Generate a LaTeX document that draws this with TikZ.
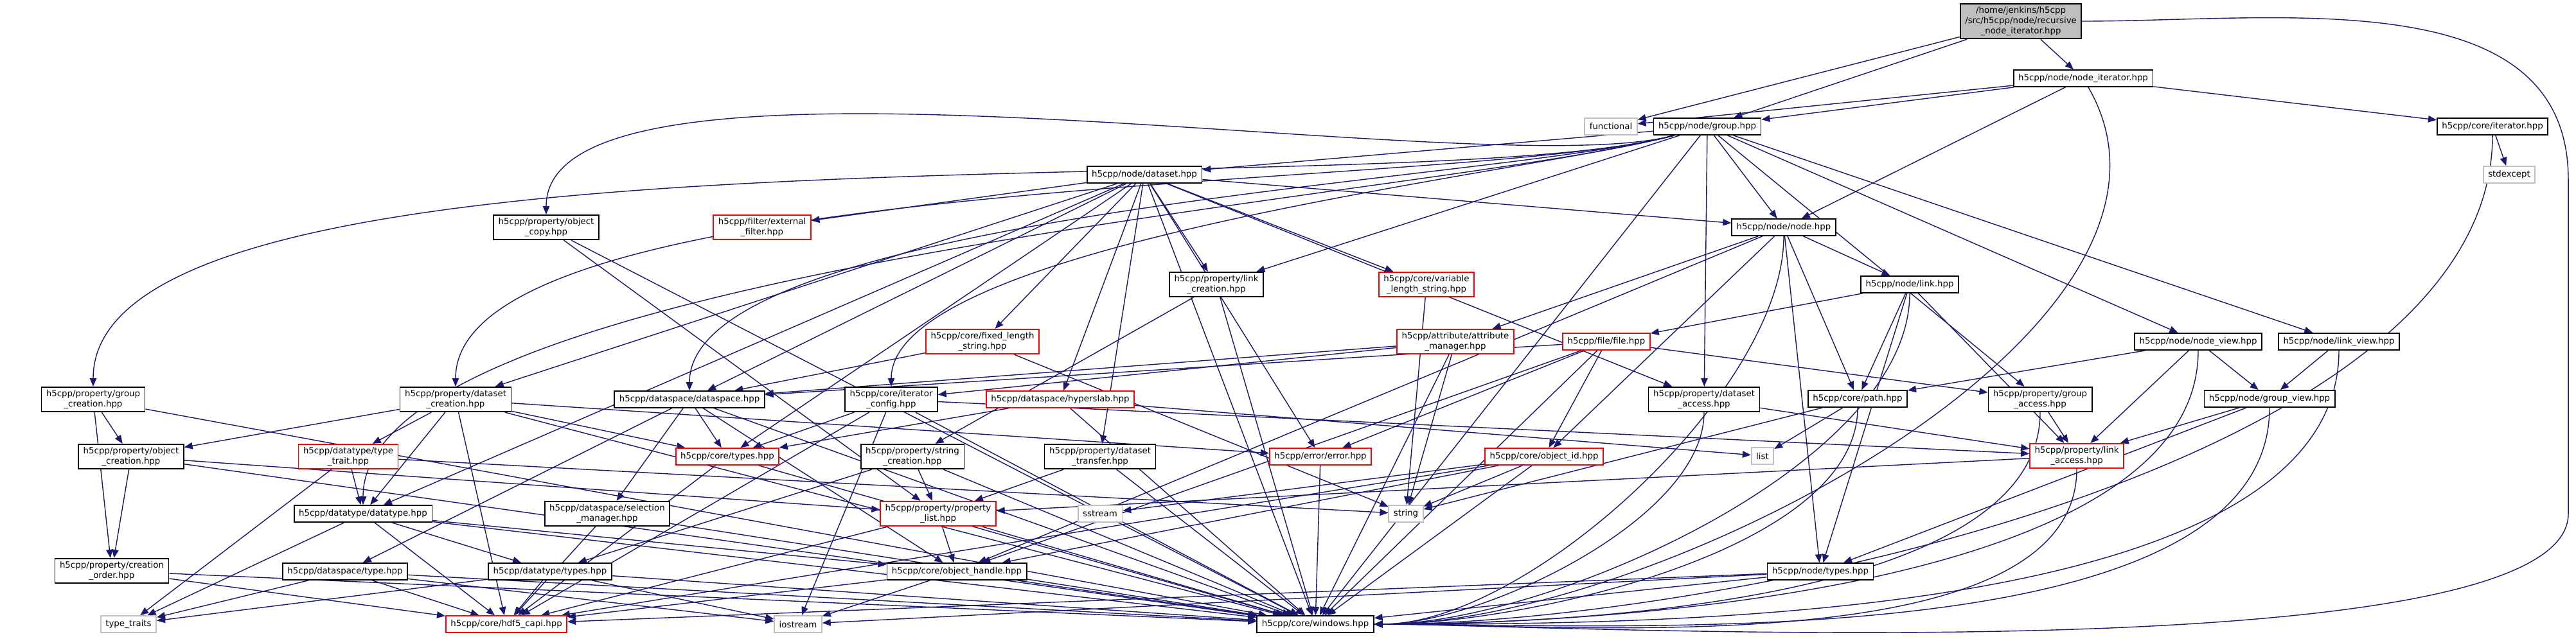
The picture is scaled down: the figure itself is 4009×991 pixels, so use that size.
\documentclass[tikz,border=0pt]{standalone}
\usepackage{fontspec}
\setmainfont{DejaVu Sans}
\usetikzlibrary{arrows.meta,backgrounds}
\definecolor{edgeblue}{RGB}{25,25,112}
\definecolor{sysgray}{RGB}{191,191,191}

\begin{document}
\begin{tikzpicture}[x=0.1mm, y=0.1mm, font=\fontsize{3.8}{4.6}\selectfont,
  hdr/.style={draw=#1, line width=0.5pt, fill=white, align=center,
    inner xsep=0.75mm, inner ysep=0.45mm, minimum height=2.6mm},
  hdr/.default={black},
  sys/.style={hdr=sysgray},
  top/.style={hdr, fill=sysgray},
  dep/.style={->, edgeblue, line width=0.4pt},
  win/.style={out=-90, in=0, looseness=0.7},
  sweep/.style={out=195, in=90, looseness=0.45},
  >={Triangle[length=1.3mm, width=1.05mm]}]
\useasboundingbox (0,0) rectangle (4009,-991);
\node[top] (root) at (3145,-33) {/home/jenkins/h5cpp\\/src/h5cpp/node/recursive\\\_node\_iterator.hpp};
\node[hdr] (nodeit) at (3242,-122) {h5cpp/node/node\_iterator.hpp};
\node[sys] (functional) at (2507,-197) {functional};
\node[hdr] (grouphpp) at (2657,-197) {h5cpp/node/group.hpp};
\node[hdr] (iterator) at (3879,-197) {h5cpp/core/iterator.hpp};
\node[sys] (stdexcept) at (3905,-272) {stdexcept};
\node[hdr] (dataset) at (1781,-272) {h5cpp/node/dataset.hpp};
\node[hdr] (objcopy) at (850,-354) {h5cpp/property/object\\\_copy.hpp};
\node[hdr=red] (extfilter) at (1186,-354) {h5cpp/filter/external\\\_filter.hpp};
\node[hdr] (nodehpp) at (2776,-354) {h5cpp/node/node.hpp};
\node[hdr] (linkcreat) at (1893,-443) {h5cpp/property/link\\\_creation.hpp};
\node[hdr=red] (varstr) at (2220,-443) {h5cpp/core/variable\\\_length\_string.hpp};
\node[hdr] (linkhpp) at (2972,-443) {h5cpp/node/link.hpp};
\node[hdr=red] (fixstr) at (1529,-532) {h5cpp/core/fixed\_length\\\_string.hpp};
\node[hdr=red] (attrman) at (2265,-532) {h5cpp/attribute/attribute\\\_manager.hpp};
\node[hdr=red] (filehpp) at (2500,-532) {h5cpp/file/file.hpp};
\node[hdr] (nodeview) at (3421,-532) {h5cpp/node/node\_view.hpp};
\node[hdr] (linkview) at (3640,-532) {h5cpp/node/link\_view.hpp};
\node[hdr] (grpcreat) at (145,-622) {h5cpp/property/group\\\_creation.hpp};
\node[hdr] (dscreat) at (709,-622) {h5cpp/property/dataset\\\_creation.hpp};
\node[hdr] (dspace) at (1073,-622) {h5cpp/dataspace/dataspace.hpp};
\node[hdr] (itconf) at (1387,-622) {h5cpp/core/iterator\\\_config.hpp};
\node[hdr=red] (hslab) at (1650,-622) {h5cpp/dataspace/hyperslab.hpp};
\node[hdr] (dsaccess) at (2652,-622) {h5cpp/property/dataset\\\_access.hpp};
\node[hdr] (pathhpp) at (2891,-621) {h5cpp/core/path.hpp};
\node[hdr] (grpaccess) at (3175,-622) {h5cpp/property/group\\\_access.hpp};
\node[hdr] (grpview) at (3532,-621) {h5cpp/node/group\_view.hpp};
\node[hdr] (objcreat) at (204,-711) {h5cpp/property/object\\\_creation.hpp};
\node[hdr=red] (typetrait) at (542,-711) {h5cpp/datatype/type\\\_trait.hpp};
\node[hdr=red] (coretypes) at (1132,-711) {h5cpp/core/types.hpp};
\node[hdr] (strcreat) at (1420,-711) {h5cpp/property/string\\\_creation.hpp};
\node[hdr] (dstransfer) at (1712,-711) {h5cpp/property/dataset\\\_transfer.hpp};
\node[hdr=red] (error) at (2055,-711) {h5cpp/error/error.hpp};
\node[hdr=red] (objid) at (2403,-711) {h5cpp/core/object\_id.hpp};
\node[sys] (list) at (2743,-710) {list};
\node[hdr=red] (linkaccess) at (3232,-710) {h5cpp/property/link\\\_access.hpp};
\node[hdr] (datatype) at (565,-800) {h5cpp/datatype/datatype.hpp};
\node[hdr] (selman) at (945,-800) {h5cpp/dataspace/selection\\\_manager.hpp};
\node[hdr=red] (proplist) at (1460,-800) {h5cpp/property/property\\\_list.hpp};
\node[sys] (sstream) at (1712,-800) {sstream};
\node[sys] (string) at (2188,-800) {string};
\node[hdr] (crorder) at (174,-889) {h5cpp/property/creation\\\_order.hpp};
\node[hdr] (dstype) at (537,-890) {h5cpp/dataspace/type.hpp};
\node[hdr] (dttypes) at (856,-890) {h5cpp/datatype/types.hpp};
\node[hdr] (objhandle) at (1489,-890) {h5cpp/core/object\_handle.hpp};
\node[hdr] (nodetypes) at (2833,-890) {h5cpp/node/types.hpp};
\node[sys] (typetraits) at (200,-972) {type\_traits};
\node[hdr=red] (capi) at (788,-972) {h5cpp/core/hdf5\_capi.hpp};
\node[sys] (iostream) at (1242,-972) {iostream};
\node[hdr] (windows) at (2047,-972) {h5cpp/core/windows.hpp};
\coordinate (rbend) at (3997,-280);
\coordinate (rdown) at (3997,-800);
\begin{scope}[on background layer]
\draw[dep] (root) edge (functional) edge (grouphpp) edge (nodeit);
\draw[dep] (root.east) to[out=0, in=90] (rbend) -- (rdown) to[out=-90, in=0, looseness=0.35] (windows.east);
\draw[dep] (nodeit) edge (functional) edge (grouphpp) edge (nodehpp) edge (iterator)
  edge[out=-60, in=0, looseness=0.8] (windows);
\draw[dep] (iterator) edge (stdexcept) edge[win] (windows);
\draw[dep] (grouphpp) edge[sweep] (grpcreat) edge[sweep] (objcopy) edge[sweep] (dscreat)
  edge[sweep] (dspace) edge[sweep] (datatype) edge[sweep] (itconf) edge (dataset) edge (linkcreat)
  edge (nodehpp) edge (dsaccess) edge (grpaccess) edge (nodeview) edge (linkview) edge (windows);
\draw[dep] (dataset) edge (extfilter) edge (dspace) edge (dscreat) edge (datatype) edge (coretypes)
  edge (fixstr) edge (hslab) edge (dstransfer) edge (linkcreat) edge (error) edge (windows)
  edge (varstr) edge (nodehpp) edge (dsaccess);
\draw[dep] (nodehpp) edge (attrman) edge (objhandle) edge (objid) edge (pathhpp) edge (linkhpp)
  edge (nodetypes) edge[win] (windows);
\draw[dep] (linkhpp) edge (filehpp) edge (pathhpp) edge (linkaccess) edge (nodetypes) edge[win] (windows);
\draw[dep] (filehpp) edge (dspace) edge (objhandle) edge (objid) edge (error) edge (grpaccess) edge (windows);
\draw[dep] (attrman) edge (dspace) edge (itconf) edge (string) edge (windows);
\draw[dep] (varstr) edge (string);
\draw[dep] (fixstr) edge (dspace) edge (string);
\draw[dep] (linkcreat) edge (strcreat) edge (windows);
\draw[dep] (hslab) edge (coretypes) edge (list) edge (windows);
\draw[dep] (itconf) edge (coretypes) edge (capi) edge (iostream) edge (linkaccess) edge (windows);
\draw[dep] (dscreat) edge (objcreat) edge (typetrait) edge (datatype) edge (coretypes) edge (error)
  edge (capi) edge (windows);
\draw[dep] (grpcreat) edge (objcreat) edge (crorder) edge (windows);
\draw[dep] (objcreat) edge (crorder) edge (proplist) edge (windows);
\draw[dep] (objcopy) edge (proplist) edge (windows);
\draw[dep] (dspace) edge (coretypes) edge (dstype) edge (selman) edge (objhandle) edge (windows);
\draw[dep] (typetrait) edge (datatype) edge (typetraits) edge (string);
\draw[dep] (coretypes) edge (capi) edge (windows);
\draw[dep] (strcreat) edge (proplist) edge (dttypes) edge (windows);
\draw[dep] (dstransfer) edge (proplist) edge (windows);
\draw[dep] (error) edge (windows);
\draw[dep] (objid) edge (string) edge (sstream) edge (objhandle) edge (capi) edge (windows);
\draw[dep] (proplist) edge (objhandle) edge (capi) edge (windows);
\draw[dep] (objhandle) edge (iostream) edge (capi) edge (windows);
\draw[dep] (selman) edge (capi) edge (windows);
\draw[dep] (datatype) edge (typetraits) edge (capi) edge (dttypes) edge (objhandle) edge (windows);
\draw[dep] (crorder) edge (capi) edge (windows);
\draw[dep] (dstype) edge (typetraits) edge (capi) edge (iostream) edge (windows);
\draw[dep] (dttypes) edge (typetraits) edge (capi) edge (iostream) edge (windows);
\draw[dep] (nodetypes) edge (iostream) edge (capi) edge (windows);
\draw[dep] (dsaccess) edge (linkaccess) edge[win] (windows);
\draw[dep] (pathhpp) edge (list) edge (string) edge[win] (windows);
\draw[dep] (grpaccess) edge (linkaccess) edge[win] (windows);
\draw[dep] (nodeview) edge (pathhpp) edge (linkaccess) edge (grpview) edge[win] (windows);
\draw[dep] (linkview) edge (grpview) edge[win] (windows);
\draw[dep] (grpview) edge (linkaccess) edge (nodetypes) edge[win] (windows);
\draw[dep] (linkaccess) edge (proplist) edge[win] (windows);
\end{scope}
\end{tikzpicture}
\end{document}
